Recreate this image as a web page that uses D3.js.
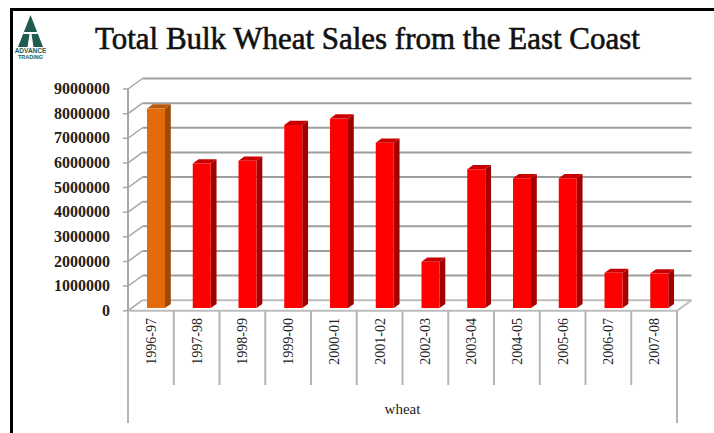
<!DOCTYPE html>
<html>
<head>
<meta charset="utf-8">
<script src="https://cdn.jsdelivr.net/npm/d3@7"></script>
<style>
  body { margin: 0; background: #fff; }
  svg { display: block; }
</style>
</head>
<body>
<div id="chart"></div>
<script>
// data
var seasons = ["1996-97", "1997-98", "1998-99", "1999-00", "2000-01", "2001-02",
               "2002-03", "2003-04", "2004-05", "2005-06", "2006-07", "2007-08"];
var sales = [8100000, 5870000, 5980000, 7430000, 7700000, 6710000,
             1880000, 5640000, 5270000, 5270000, 1430000, 1410000];
var yTicks = [0, 1000000, 2000000, 3000000, 4000000, 5000000, 6000000, 7000000, 8000000, 9000000];
var seriesName = "wheat";
var chartTitle = "Total Bulk Wheat Sales from the East Coast";

var width = 714, height = 433;

// front plane of the 3d box, and the shift to its back wall
var front = {left: 128, right: 677, bottom: 310.7, top: 89};
var depth = {dx: 14.5, dy: -10.5};
var barFront = 0.25, barBack = 0.65, barWidth = 18;

var svg = d3.select("#chart")
    .append("svg")
    .attr("width", width)
    .attr("height", height);

var x = d3.scaleBand()
    .domain(seasons)
    .range([front.left, front.right]);

var y = d3.scaleLinear()
    .domain([0, 9000000])
    .range([front.bottom, front.top]);

// point in the box: px, py on the front plane, d = 0 front .. 1 back
function p(px, py, d) {
    return [px + d * depth.dx, py + d * depth.dy];
}

// frame of the slide
svg.append("line")
    .attr("x1", 10).attr("x2", width)
    .attr("y1", 9.5).attr("y2", 9.5)
    .style("stroke", "#000").style("stroke-width", 3);
svg.append("line")
    .attr("x1", 11.5).attr("x2", 11.5)
    .attr("y1", 8).attr("y2", height)
    .style("stroke", "#000").style("stroke-width", 3);

// logo
var logo = svg.append("g").attr("transform", "translate(18,15)");
logo.append("path")
    .attr("d", "M12.5,0 L25,32 L0,32 Z")
    .style("fill", "#1f5b4e");
logo.append("path")
    .attr("d", "M5.7,17 L19.3,17 L20.1,19 L4.9,19 Z M11.5,19 L13.5,19 L15.5,32 L9.5,32 Z")
    .style("fill", "#fff");
logo.append("text")
    .attr("x", 12.5).attr("y", 38)
    .attr("text-anchor", "middle")
    .style("font-family", "Liberation Sans, Arial, sans-serif")
    .style("font-size", "6.5px").style("font-weight", "bold")
    .style("fill", "#1f5b4e")
    .text("ADVANCE");
logo.append("text")
    .attr("x", 12.5).attr("y", 43.5)
    .attr("text-anchor", "middle")
    .style("font-family", "Liberation Sans, Arial, sans-serif")
    .style("font-size", "5.5px").style("font-weight", "bold")
    .style("fill", "#1f5b4e")
    .text("TRADING");

// title, sized to the width it has in the picture
var title = svg.append("text")
    .attr("x", 95).attr("y", 49)
    .style("font-family", "Liberation Serif, Times New Roman, serif")
    .style("font-size", "27px")
    .style("fill", "#111")
    .style("stroke", "#111")
    .style("stroke-width", 0.6)
    .text(chartTitle);
var tl = title.node().getComputedTextLength();
title.style("font-size", (27 * 545 / tl) + "px");

// back wall gridlines
svg.append("g").selectAll("line")
    .data(yTicks).enter()
    .append("line")
    .attr("x1", function(d) { return p(front.left, y(d), 1)[0]; })
    .attr("y1", function(d) { return p(front.left, y(d), 1)[1]; })
    .attr("x2", function(d) { return p(front.right, y(d), 1)[0]; })
    .attr("y2", function(d) { return p(front.right, y(d), 1)[1]; })
    .style("stroke", function(d) { return d == 0 ? "#bdbdbd" : "#9e9e9e"; })
    .style("stroke-width", 2);

// side wall diagonals and outer ticks
svg.append("g").selectAll("path")
    .data(yTicks).enter()
    .append("path")
    .attr("d", function(d) {
        return d3.line()([[front.left - 5, y(d)], [front.left, y(d)], p(front.left, y(d), 1)]);
    })
    .style("fill", "none")
    .style("stroke", "#a8a8a8")
    .style("stroke-width", 1.5);

// value axis line
svg.append("line")
    .attr("x1", front.left).attr("x2", front.left)
    .attr("y1", y(9000000)).attr("y2", front.bottom)
    .style("stroke", "#a8a8a8").style("stroke-width", 2);

// floor
svg.append("path")
    .attr("d", d3.line()([[front.left, front.bottom], [front.right, front.bottom], p(front.right, front.bottom, 1)]))
    .style("fill", "none")
    .style("stroke", "#bdbdbd")
    .style("stroke-width", 2);

// y tick labels
svg.append("g").selectAll("text")
    .data(yTicks).enter()
    .append("text")
    .attr("x", 110)
    .attr("y", function(d) { return y(d); })
    .attr("dy", "0.32em")
    .attr("text-anchor", "end")
    .style("font-family", "Liberation Serif, Times New Roman, serif")
    .style("font-size", "16px")
    .style("font-weight", "bold")
    .style("fill", "#222")
    .text(function(d) { return d; });

// bars
var bars = seasons.map(function(s, i) {
    return {season: s, value: sales[i], first: i == 0};
});

var barG = svg.append("g").selectAll("g")
    .data(bars).enter()
    .append("g");

function face(pts) {
    return d3.line()(pts) + "Z";
}

function barLeft(d) {
    return x(d.season) + x.bandwidth() / 2 - 7.5;
}

// side
barG.append("path")
    .attr("d", function(d) {
        var xr = barLeft(d) + barWidth;
        return face([p(xr, y(d.value), barFront), p(xr, y(d.value), barBack),
                     p(xr, y(0), barBack), p(xr, y(0), barFront)]);
    })
    .style("fill", function(d) { return d.first ? "#9c4a06" : "#a30000"; });

// top
barG.append("path")
    .attr("d", function(d) {
        var xl = barLeft(d), xr = xl + barWidth;
        return face([p(xl, y(d.value), barFront), p(xr, y(d.value), barFront),
                     p(xr, y(d.value), barBack), p(xl, y(d.value), barBack)]);
    })
    .style("fill", function(d) { return d.first ? "#b85a0c" : "#c80000"; });

// front
barG.append("path")
    .attr("d", function(d) {
        var xl = barLeft(d), xr = xl + barWidth;
        return face([p(xl, y(d.value), barFront), p(xr, y(d.value), barFront),
                     p(xr, y(0), barFront), p(xl, y(0), barFront)]);
    })
    .style("fill", function(d) { return d.first ? "#e36c0a" : "#ff0000"; });

// category separators below the floor
var edges = d3.range(seasons.length + 1);
svg.append("g").selectAll("line")
    .data(edges).enter()
    .append("line")
    .attr("x1", function(i) { return front.left + i * x.bandwidth(); })
    .attr("x2", function(i) { return front.left + i * x.bandwidth(); })
    .attr("y1", front.bottom)
    .attr("y2", function(i) { return (i == 0 || i == seasons.length) ? 423 : 385; })
    .style("stroke", "#b5b5b5")
    .style("stroke-width", 2);

// category labels
svg.append("g").selectAll("text")
    .data(seasons).enter()
    .append("text")
    .attr("transform", function(d) {
        return "translate(" + (x(d) + x.bandwidth() / 2) + ",318) rotate(-90)";
    })
    .attr("dy", "0.35em")
    .attr("text-anchor", "end")
    .style("font-family", "Liberation Serif, Times New Roman, serif")
    .style("font-size", "14px")
    .style("fill", "#222")
    .text(function(d) { return d; });

svg.append("text")
    .attr("x", (front.left + front.right) / 2)
    .attr("y", 414)
    .attr("text-anchor", "middle")
    .style("font-family", "Liberation Serif, Times New Roman, serif")
    .style("font-size", "15px")
    .style("fill", "#222")
    .text(seriesName);
</script>
</body>
</html>
